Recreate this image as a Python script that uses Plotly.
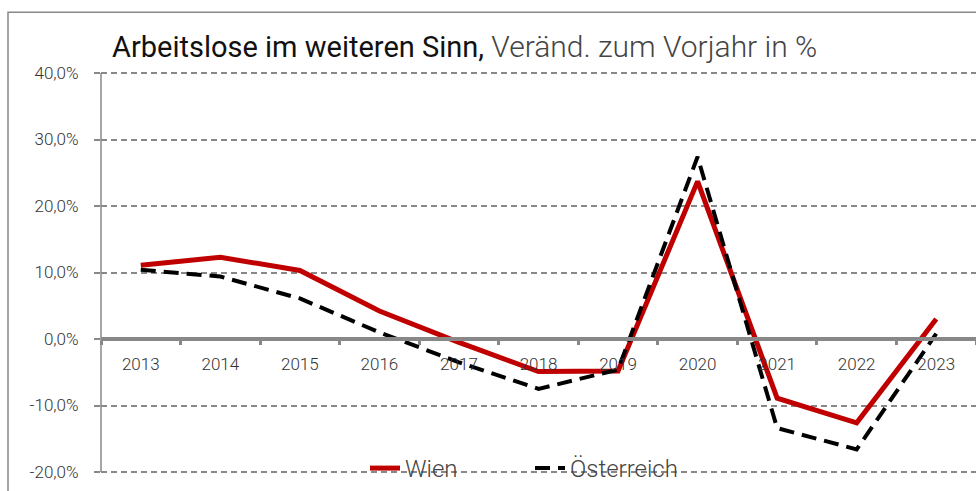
import plotly.graph_objects as go

# Jahre und Veränderungsraten (in %)
years = ["2013", "2014", "2015", "2016", "2017", "2018", "2019", "2020", "2021", "2022", "2023"]
wien = [11.1, 12.3, 10.3, 4.2, -0.5, -4.9, -4.8, 23.7, -8.9, -12.6, 3.0]
oesterreich = [10.4, 9.4, 6.1, 1.0, -3.5, -7.5, -4.6, 27.4, -13.4, -16.6, 0.8]

y_tickvals = [-20, -10, 0, 10, 20, 30, 40]
y_ticktext = ["-20,0%", "-10,0%", "0,0%", "10,0%", "20,0%", "30,0%", "40,0%"]

FONT = "Roboto"
GREY = "#888888"

# Plotbereich: 71..475 px vertikal, 6,67 px je Prozentpunkt
TOP, BOTTOM = 71, 475
PLOT_H = BOTTOM - TOP
Y_RANGE = [-20.3, 40.3]


def y_px_to_paper(px):
    return (BOTTOM - px) / PLOT_H


fig = go.Figure()
fig.add_trace(go.Scatter(
    x=years, y=wien, name="Wien", mode="lines",
    line=dict(color="#C00000", width=5),
))
fig.add_trace(go.Scatter(
    x=years, y=oesterreich, name="Österreich", mode="lines",
    line=dict(color="#000000", width=4, dash="15px,8px"),
))

fig.update_layout(
    width=976, height=491,
    margin=dict(l=101, r=0, t=TOP, b=491 - BOTTOM),
    paper_bgcolor="white", plot_bgcolor="white",
    font=dict(family=FONT, color="#333333"),
    showlegend=True,
    legend=dict(
        orientation="h", x=(365 - 101) / 875, xanchor="left",
        y=y_px_to_paper(469), yanchor="middle",
        bgcolor="rgba(0,0,0,0)", font=dict(size=24, color="#444444", weight=300),
        entrywidth=120, entrywidthmode="pixels",
    ),
    title=dict(
        text="<span style='color:#111111'>Arbeitslose im weiteren Sinn,</span>"
             "<span style='color:#444444;font-weight:300;font-size:30px'> Veränd. zum Vorjahr in %</span>",
        x=0.0126, xref="paper", xanchor="left",
        y=1 - 47 / 491, yref="container", yanchor="middle",
        font=dict(family=FONT, size=29),
    ),
    xaxis=dict(
        type="category",
        anchor="free", position=y_px_to_paper(340),
        showline=True, linecolor=GREY, linewidth=4,
        ticks="outside", tickson="boundaries", ticklen=4, tickwidth=3, tickcolor=GREY,
        showgrid=False, zeroline=False,
        tickfont=dict(size=17, color="#333333", weight=300),
        ticklabelstandoff=8,
        range=[-0.5, 10.5],
    ),
    yaxis=dict(
        range=Y_RANGE, tickvals=y_tickvals, ticktext=y_ticktext,
        showline=False,
        ticks="outside", ticklen=6, tickwidth=1.5, tickcolor=GREY,
        showgrid=True, gridcolor=GREY, gridwidth=1.5, griddash="6px,4px",
        zeroline=False,
        tickfont=dict(size=17, color="#333333", weight=300),
        ticklabelstandoff=12,
    ),
)

# Senkrechte Achsenlinie von -20 % bis 40 %
fig.add_shape(
    type="line", xref="paper", yref="y",
    x0=0, x1=0, y0=y_tickvals[0], y1=y_tickvals[-1],
    line=dict(color=GREY, width=1.5), layer="below",
)

# Rahmen um das Diagramm
fig.add_shape(
    type="rect", xref="paper", yref="paper",
    x0=(8 - 101) / 875, x1=1.05, y0=-0.2, y1=y_px_to_paper(12),
    line=dict(color=GREY, width=1.5), layer="below",
)

fig.write_html("out.html")
